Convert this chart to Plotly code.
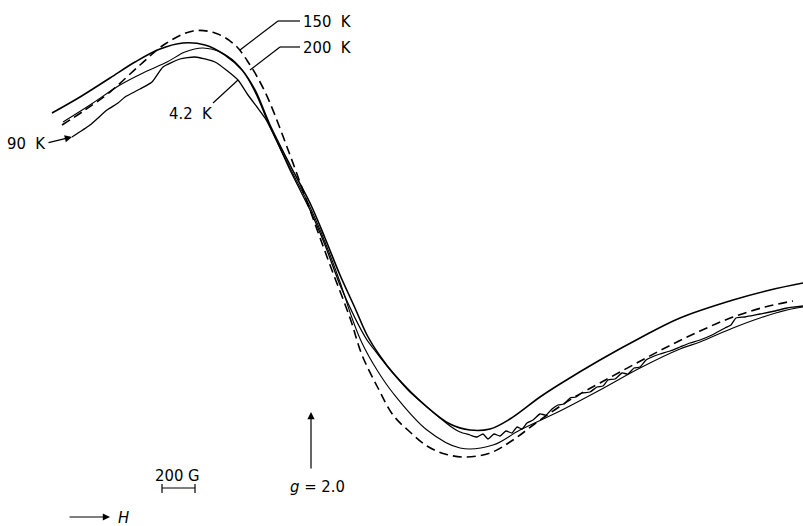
import plotly.graph_objects as go

# ---- spectra (page-pixel coordinates) ----
top_x = [52, 80, 110, 135, 160, 183, 205, 225, 242, 255, 270, 290, 310, 325, 340, 355, 367, 380, 393, 427, 450, 470, 490, 510, 540, 560, 600, 640, 680, 733, 770, 803]
top_y = [113, 97, 78, 62, 49, 43, 45, 55, 70, 90, 125, 165, 203, 238, 275, 308, 335, 356, 373, 407, 424, 430, 429, 419, 397, 384, 360, 338, 318, 300, 290, 283]

dash_x = [62, 85, 110, 140, 165, 193, 215, 235, 250, 260, 270, 290, 310, 330, 350, 362, 378, 393, 410, 427, 445, 465, 490, 513, 540, 573, 600, 633, 667, 700, 733, 765, 793]
dash_y = [125, 110, 92, 65, 44, 31, 33, 45, 65, 82, 103, 155, 210, 265, 318, 355, 388, 415, 432, 446, 454, 457, 453, 440, 420, 398, 383, 365, 347, 331, 317, 307, 301]

mid_x = [63, 90, 120, 145, 167, 185, 203, 222, 240, 255, 270, 290, 310, 325, 340, 352, 362, 377, 393, 427, 460, 493, 520, 560, 600, 640, 680, 700, 733, 760, 787, 803]
mid_y = [122, 105, 85, 72, 62, 52, 48, 53, 67, 92, 127, 168, 207, 242, 282, 318, 343, 370, 393, 430, 448, 445, 430, 411, 390, 368, 349, 342, 328, 318, 310, 307]

low_x = [72, 90, 107, 118, 125, 140, 152, 163, 180, 195, 215, 238, 248, 257, 265, 273, 290, 310, 325, 340, 355, 367, 380, 393, 410, 427, 440, 450, 460, 470, 477, 483, 488, 494, 500, 506, 512, 517, 522, 527, 533, 540, 546, 552, 558, 564, 570, 576, 582, 590, 597, 603, 608, 615, 622, 628, 634, 640, 646, 652, 660, 670, 680, 690, 700, 712, 725, 731, 736, 745, 760, 775, 787, 795, 803]
low_y = [137, 125, 110, 103, 97, 89, 82, 67, 59, 57, 62, 80, 95, 107, 118, 133, 170, 210, 245, 285, 318, 340, 357, 373, 392, 407, 418, 426, 432, 435, 437, 434, 439, 434, 436, 431, 433, 427, 429, 423, 420, 414, 415, 409, 405, 404, 398, 397, 393, 392, 387, 386, 380, 379, 373, 374, 368, 367, 360, 357, 354, 351, 347, 343, 340, 335, 328, 325, 318, 317, 314, 311, 308, 307, 306]

labels = ["150\u00a0\u00a0K", "200\u00a0\u00a0K", "4.2\u00a0\u00a0K", "90\u00a0\u00a0K"]
scale_label = "200 G"
g_label = "<i>g</i> = 2.0"
field_label = "<i>H</i>"

FONT = dict(family="DejaVu Sans Condensed, Liberation Sans Narrow, DejaVu Sans, sans-serif", size=16.5, color="black")

fig = go.Figure()
fig.add_trace(go.Scatter(x=top_x, y=top_y, mode="lines", line=dict(color="black", width=1.6, shape="spline", smoothing=1.0), hoverinfo="skip"))
fig.add_trace(go.Scatter(x=mid_x, y=mid_y, mode="lines", line=dict(color="black", width=1.1, shape="spline", smoothing=1.0), hoverinfo="skip"))
fig.add_trace(go.Scatter(x=low_x, y=low_y, mode="lines", line=dict(color="black", width=1.3, shape="spline", smoothing=0.5), hoverinfo="skip"))
fig.add_trace(go.Scatter(x=dash_x, y=dash_y, mode="lines", line=dict(color="black", width=1.6, dash="9px,5px", shape="spline", smoothing=1.0), hoverinfo="skip"))

shapes = []
def seg(x0, y0, x1, y1, w=1.2):
    shapes.append(dict(type="line", xref="x", yref="y", x0=x0, y0=y0, x1=x1, y1=y1, line=dict(color="black", width=w)))

# leader lines
seg(300, 21, 278, 21); seg(278, 21, 240, 50)
seg(300, 47, 280, 47); seg(280, 47, 250, 70)
seg(213, 103, 238, 80)
# scale bar
seg(162, 488, 195, 488); seg(162, 484, 162, 493); seg(195, 484, 195, 493)

annotations = []
def txt(x, y, t, anchor="left"):
    annotations.append(dict(x=x, y=y, xref="x", yref="y", text=t, showarrow=False, xanchor=anchor, yanchor="middle", font=FONT))

txt(301, 21, labels[0])
txt(301, 47, labels[1])
txt(167, 113, labels[2])
txt(5, 143, labels[3])
txt(177, 475, scale_label, anchor="center")
txt(317, 486, g_label, anchor="center")
txt(116, 517, field_label)

def arrow(xh, yh, xt, yt):
    annotations.append(dict(x=xh, y=yh, ax=xt, ay=yt, xref="x", yref="y", axref="x", ayref="y", text="", showarrow=True,
                            arrowhead=2, arrowsize=1.2, arrowwidth=1.2, arrowcolor="black", standoff=0))

arrow(72, 137, 47, 143)
arrow(311, 412, 311, 470)
arrow(110, 517, 68, 517)

fig.update_layout(
    width=803, height=526, margin=dict(l=0, r=0, t=0, b=0),
    paper_bgcolor="white", plot_bgcolor="white", showlegend=False,
    xaxis=dict(range=[0, 803], visible=False, fixedrange=True),
    yaxis=dict(range=[526, 0], visible=False, fixedrange=True),
    shapes=shapes, annotations=annotations,
)
fig.write_html("out.html")
